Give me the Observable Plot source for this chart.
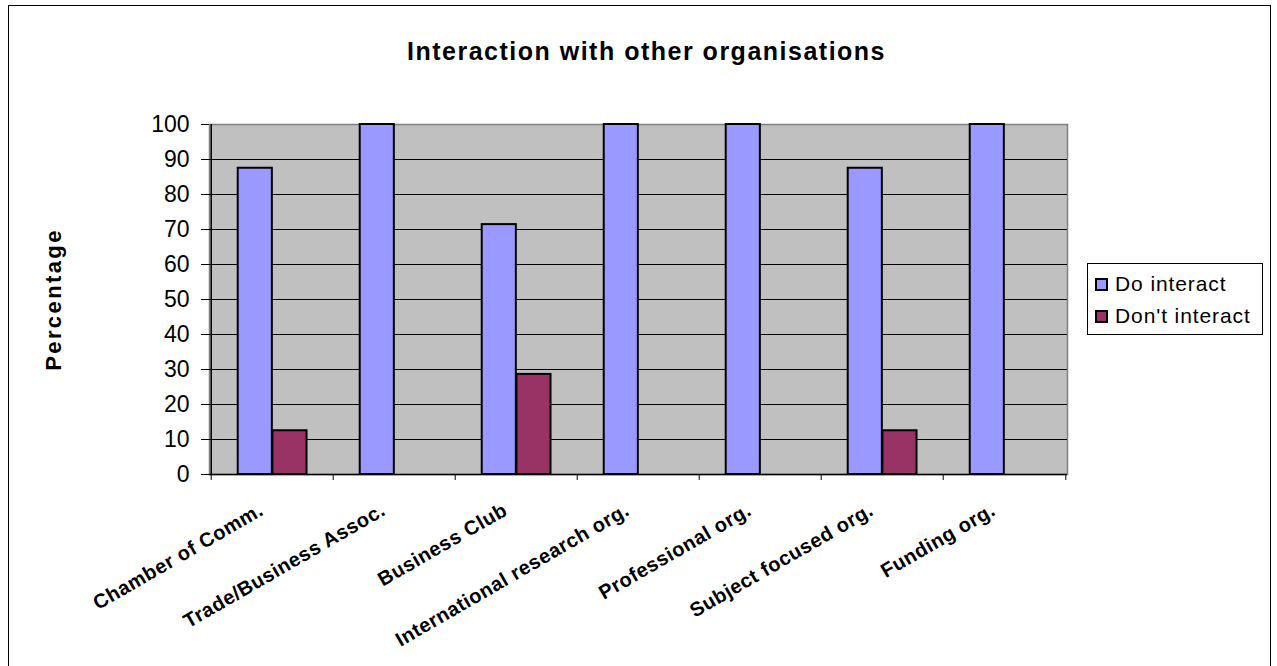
<!DOCTYPE html>
<html><head><meta charset="utf-8">
<script src="https://cdn.jsdelivr.net/npm/d3@7"></script>
<script src="https://cdn.jsdelivr.net/npm/@observablehq/plot@0.6"></script>
<style>
body{margin:0;background:#fff;overflow:hidden;font-family:"Liberation Sans",Arial,sans-serif;}
#wrap{position:relative;width:1277px;height:666px;overflow:hidden;}
#border{position:absolute;left:8px;top:5px;width:1263px;height:720px;border:1.5px solid #000;box-sizing:border-box;}
#chart{position:absolute;left:0;top:0;}
#legend{position:absolute;left:1087px;top:263px;width:176px;height:72px;border:1px solid #000;box-sizing:border-box;background:#fff;}
.row{position:absolute;left:7px;display:flex;align-items:center;font-size:21px;letter-spacing:0.9px;color:#000;white-space:nowrap;line-height:24px;}
.sw{width:9px;height:9px;border:2px solid #000;margin-right:7px;}
</style></head><body>
<div id="wrap"><div id="border"></div><div id="chart"></div><div id="legend"></div></div>
<script>
const title = "Interaction with other organisations";
const yLabel = "Percentage";
const categories = ["Chamber of Comm.", "Trade/Business Assoc.", "Business Club", "International research org.", "Professional org.", "Subject focused org.", "Funding org."];
const series = ["Do interact", "Don't interact"];
const doInteract = [87.5, 100, 71.4, 100, 100, 87.5, 100];
const dontInteract = [12.5, 0, 28.6, 0, 0, 12.5, 0];
const colors = ["#9999ff", "#993366"];
const yTicks = [0, 10, 20, 30, 40, 50, 60, 70, 80, 90, 100];

const W = 1277, H = 666, mL = 209, mR = 210, mT = 124, mB = 192;
const step = (W - mL - mR) / categories.length;
const valuesBySeries = [doInteract, dontInteract];
const rows = series.map((s, si) => categories.map((c, ci) => ({category: c, series: s, value: valuesBySeries[si][ci]})).filter(d => d.value > 0));
const font = "Liberation Sans, Arial, sans-serif";

const chart = Plot.plot({
  width: W, height: H, marginLeft: mL, marginRight: mR, marginTop: mT, marginBottom: mB,
  style: {fontFamily: font, background: "transparent", overflow: "visible"},
  x: {type: "band", domain: categories, padding: 0},
  y: {domain: [0, 100]},
  marks: [
    Plot.frame({fill: "#c0c0c0", stroke: "#808080", strokeWidth: 1.5}),
    Plot.ruleY(yTicks.filter(v => v > 0 && v < 100), {stroke: "#000", strokeWidth: 1}),
    Plot.barY(rows[0], {x: "category", y: "value", fill: colors[0], stroke: "#000", strokeWidth: 2, insetLeft: step * 0.218, insetRight: step * 0.499}),
    Plot.barY(rows[1], {x: "category", y: "value", fill: colors[1], stroke: "#000", strokeWidth: 2, insetLeft: step * 0.501, insetRight: step * 0.216}),
    Plot.ruleY([0], {stroke: "#000", strokeWidth: 1.5}),
    Plot.ruleX([categories[0]], {dx: -step / 2, stroke: "#000", strokeWidth: 1.5}),
    Plot.ruleX(categories, {x: d => d, y1: 0, y2: 0, insetBottom: -6, dx: -step / 2, stroke: "#000", strokeWidth: 1}),
    Plot.ruleX([categories[categories.length - 1]], {y1: 0, y2: 0, insetBottom: -6, dx: step / 2, stroke: "#000", strokeWidth: 1}),
    Plot.axisY({ticks: yTicks, tickSize: 8, tickPadding: 12, fontSize: 23, label: null, stroke: "#000"}),
    Plot.axisX({tickSize: 0, tickRotate: -30, tickPadding: 34, dx: -11, fontSize: 20, fontWeight: "bold", label: null}),
    Plot.text([title], {frameAnchor: "top", lineAnchor: "middle", textAnchor: "middle", dx: 8, dy: -73, fontSize: 25, fontWeight: "bold", fill: "#000"}),
    Plot.text([yLabel], {frameAnchor: "left", lineAnchor: "middle", textAnchor: "middle", dx: -156, rotate: -90, fontSize: 22, fontWeight: "bold", fill: "#000"})
  ]
});
// widen the glyph spacing a little to match the reference's wide lettering
d3.select(chart).selectAll("text").each(function() {
  const t = this.textContent;
  if (t === title) this.style.letterSpacing = "1.5px";
  else if (t === yLabel) this.style.letterSpacing = "2.4px";
  else if (categories.includes(t)) this.style.letterSpacing = "0.5px";
});
document.getElementById("chart").appendChild(chart);

const legend = document.getElementById("legend");
series.forEach((s, i) => {
  const row = document.createElement("div");
  row.className = "row";
  row.style.top = (i === 0 ? 8 : 40) + "px";
  const sw = document.createElement("div");
  sw.className = "sw";
  sw.style.background = colors[i];
  const t = document.createElement("span");
  t.textContent = s;
  row.appendChild(sw); row.appendChild(t);
  legend.appendChild(row);
});
</script>
</body></html>
